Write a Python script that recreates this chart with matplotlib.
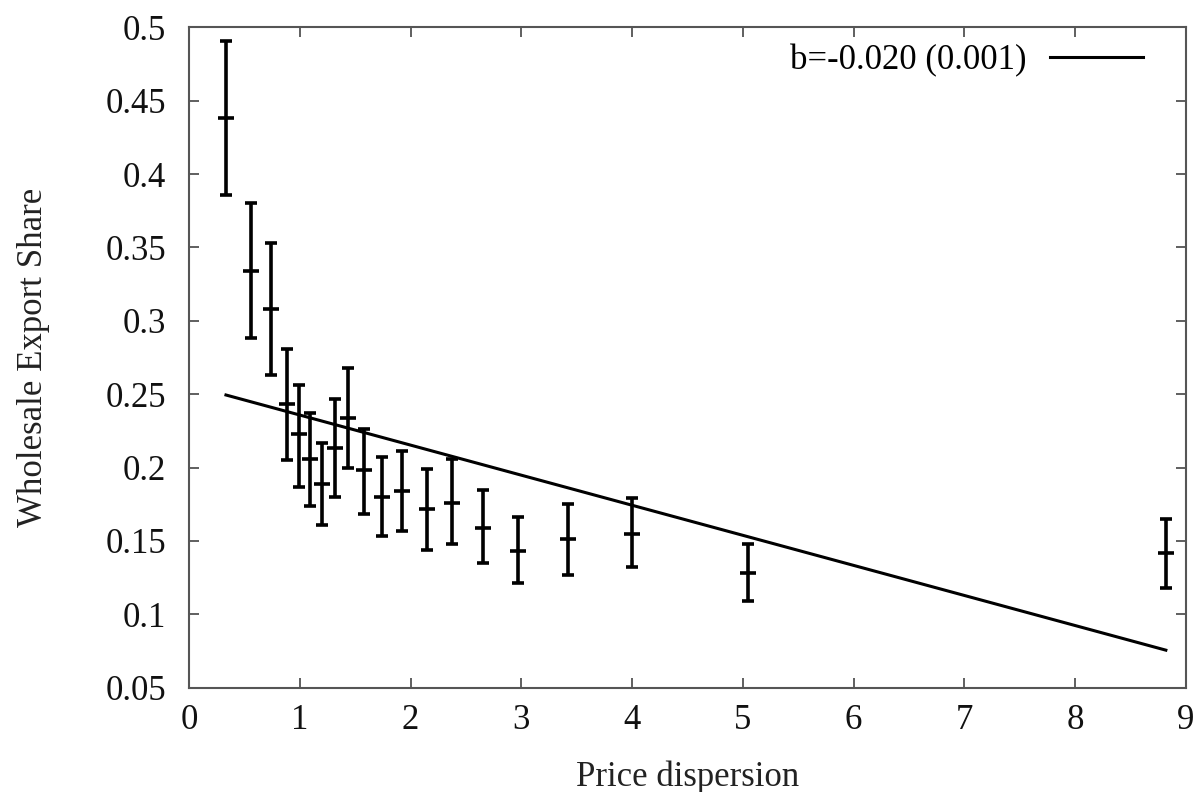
import numpy as np
import matplotlib
matplotlib.use("Agg")
import matplotlib.pyplot as plt

# binned price dispersion vs wholesale export share
dispersion = [0.334, 0.560, 0.740, 0.884, 0.993, 1.092, 1.200, 1.318, 1.435, 1.579,
              1.742, 1.922, 2.148, 2.374, 2.653, 2.969, 3.420, 3.998, 5.045, 8.818]
share = [0.438, 0.334, 0.308, 0.243, 0.223, 0.206, 0.189, 0.213, 0.234, 0.198,
         0.180, 0.184, 0.172, 0.176, 0.159, 0.143, 0.151, 0.155, 0.128, 0.142]
share_hi = [0.491, 0.380, 0.353, 0.281, 0.256, 0.237, 0.217, 0.247, 0.268, 0.226,
            0.207, 0.211, 0.199, 0.206, 0.185, 0.166, 0.175, 0.179, 0.148, 0.165]
share_lo = [0.386, 0.288, 0.263, 0.205, 0.187, 0.174, 0.161, 0.180, 0.200, 0.168,
            0.153, 0.157, 0.144, 0.148, 0.135, 0.121, 0.127, 0.132, 0.109, 0.118]

# fitted line
intercept = 0.2563
slope = -0.0205
fit_label = "b=-0.020 (0.001)"

plt.rcParams["font.family"] = ["Liberation Serif", "DejaVu Serif"]
plt.rcParams["font.size"] = 25

fig = plt.figure(figsize=(12.02, 7.92), dpi=100)
ax = fig.add_axes([0.1572, 0.1318, 0.8295, 0.8336])

x = np.array(dispersion)
y = np.array(share)
yerr = [y - np.array(share_lo), np.array(share_hi) - y]

ax.errorbar(x, y, yerr=yerr, fmt="_", color="black", markersize=12,
            markeredgewidth=2.6, elinewidth=2.6, capsize=4.5, capthick=2.6)

xs = np.array([x.min(), x.max()])
ax.plot(xs, intercept + slope * xs, color="black", lw=2.2, label=fit_label)

ax.set_xlim(0, 9)
ax.set_ylim(0.05, 0.5)
ax.set_xticks(np.arange(0, 10, 1))
ax.set_yticks(np.arange(0.05, 0.501, 0.05))
ax.set_yticklabels(["0.05", "0.1", "0.15", "0.2", "0.25", "0.3", "0.35", "0.4", "0.45", "0.5"])

ax.tick_params(direction="in", length=7, width=1.2, color="#444444",
               top=True, right=True, labelsize=25, labelcolor="#111111")
ax.tick_params(axis="x", pad=12)
ax.tick_params(axis="y", pad=16.5)
for s in ax.spines.values():
    s.set_linewidth(1.5)
    s.set_color("#555555")

ax.set_xlabel("Price dispersion", fontsize=25, labelpad=17, color="#222222")
ax.set_ylabel("Wholesale Export Share", fontsize=25, labelpad=40, color="#222222")

ax.legend(loc="upper right", bbox_to_anchor=(1.0, 1.04), frameon=False,
          markerfirst=False, handlelength=2.68, borderaxespad=0.84, borderpad=0.4,
          handletextpad=0.66, fontsize=25)

fig.savefig("out.png", dpi=100)
